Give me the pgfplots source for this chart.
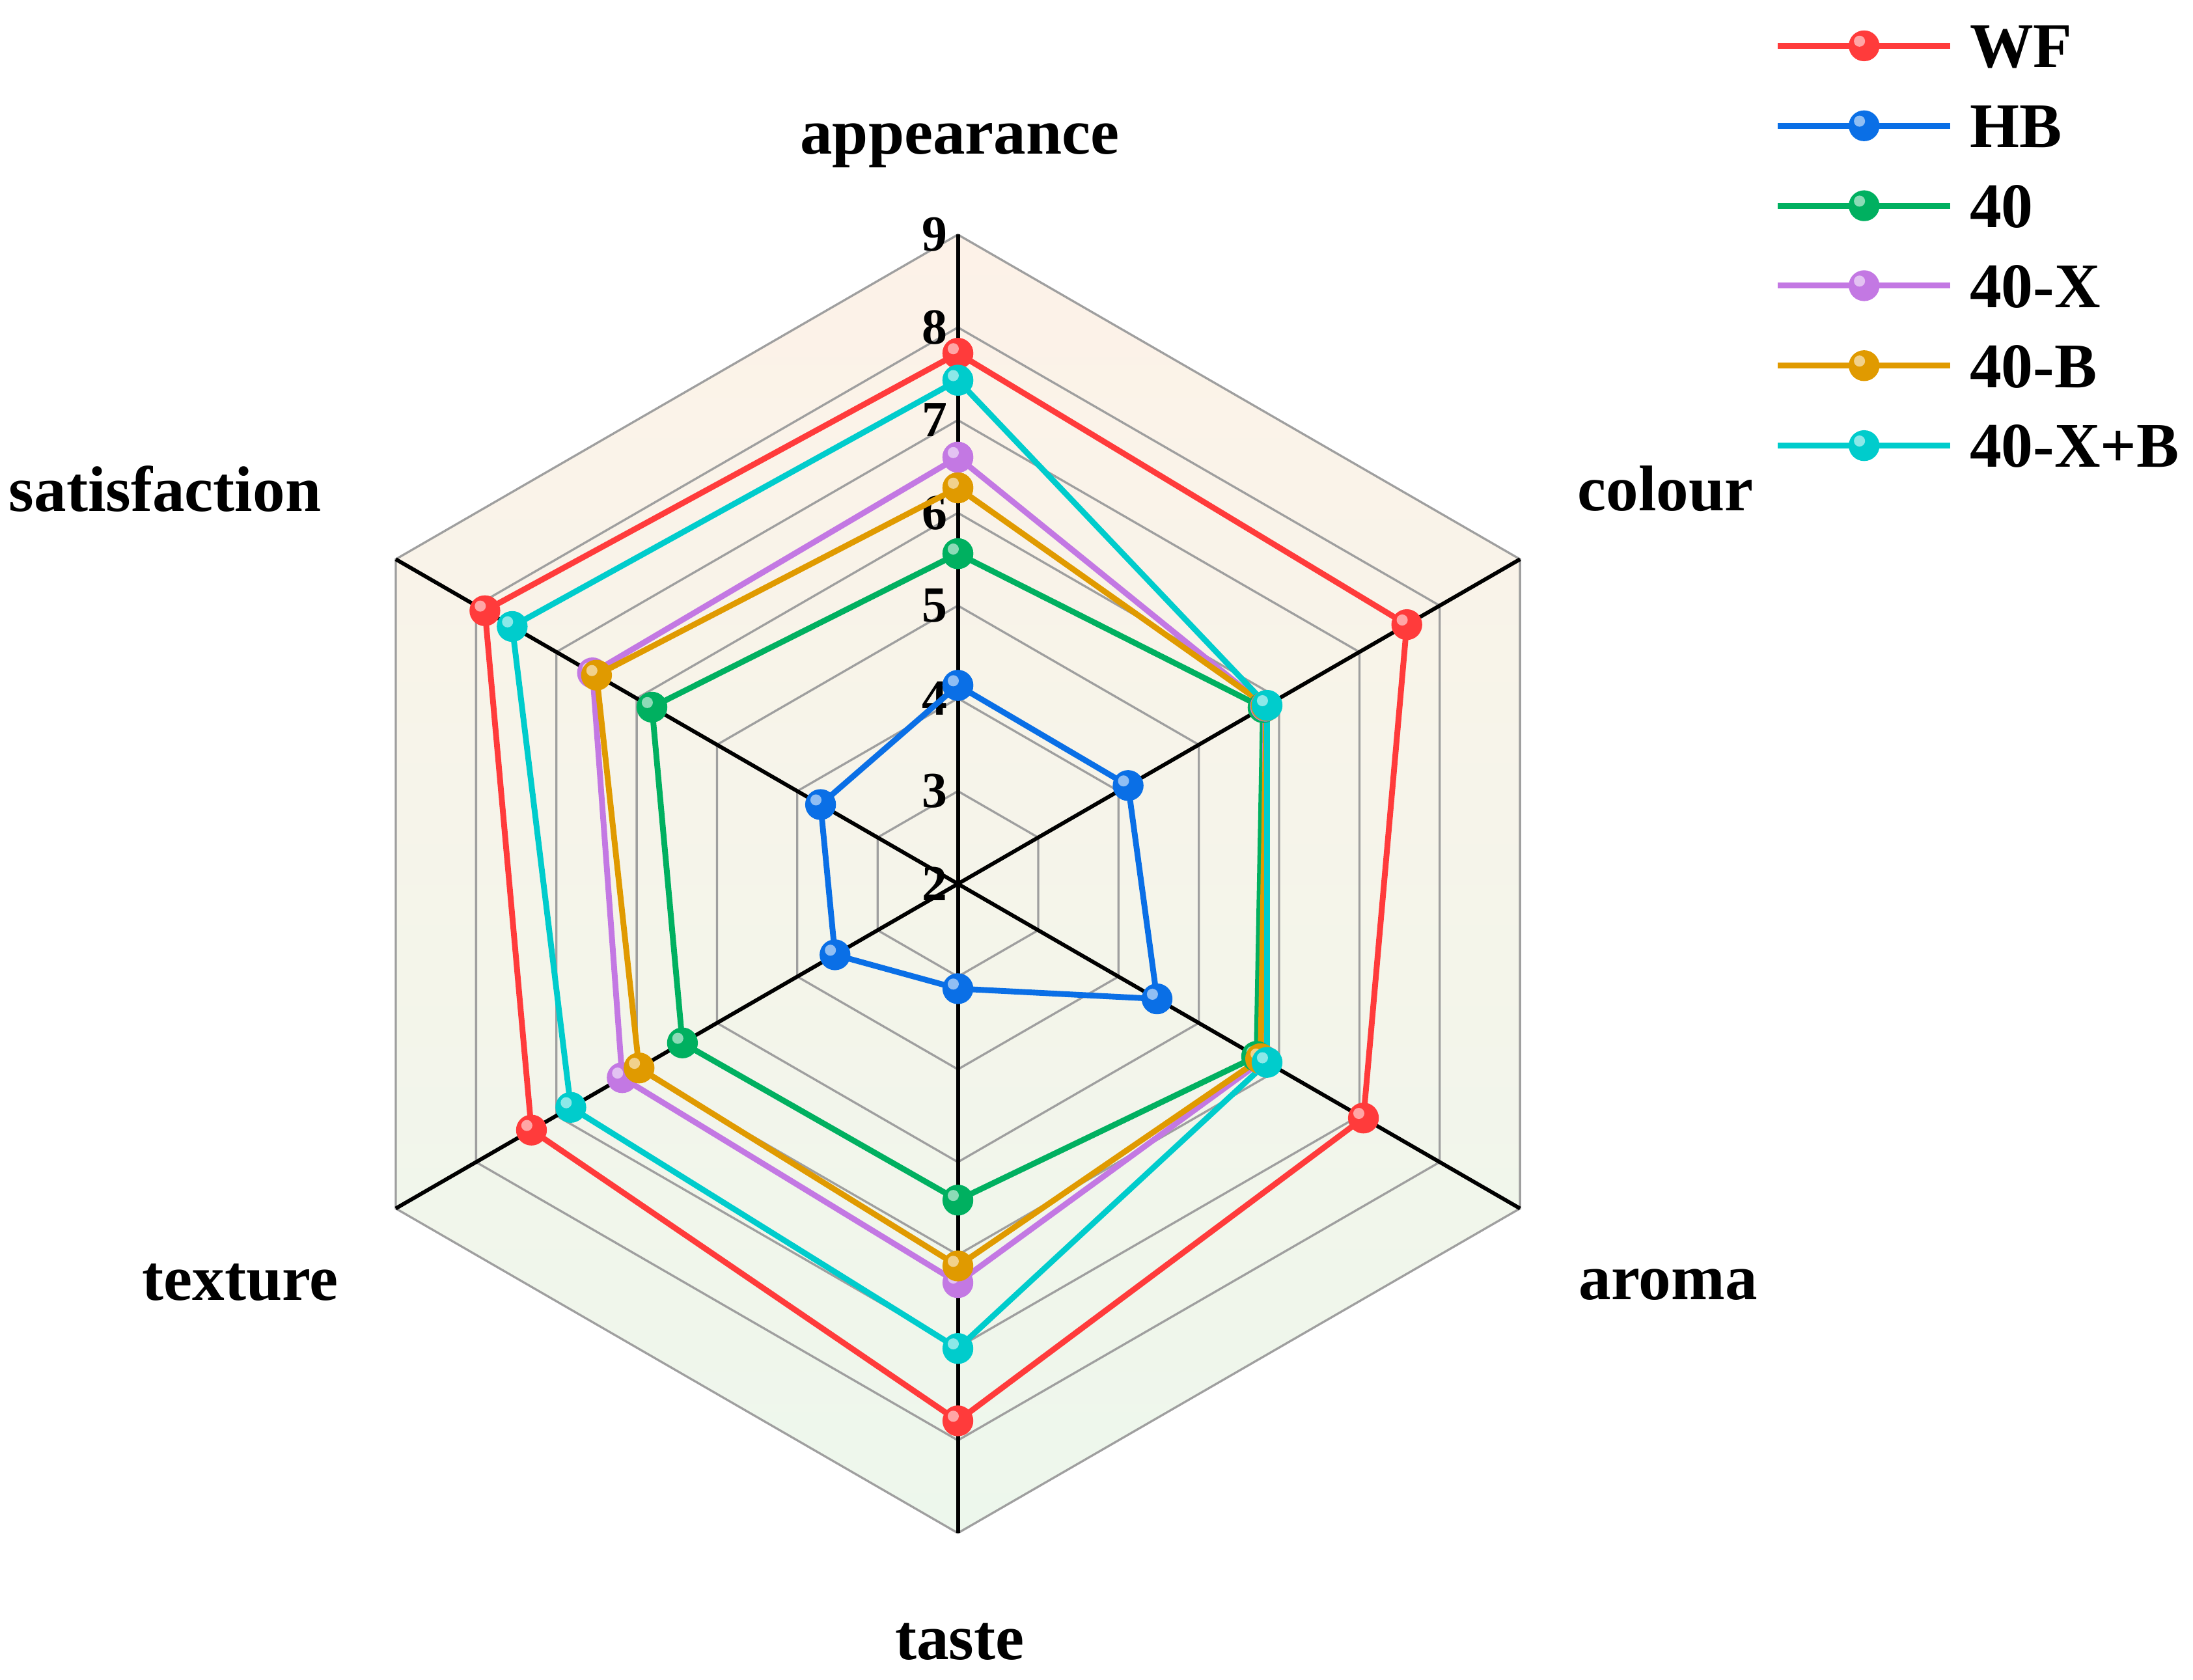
\documentclass[border=0pt]{standalone}
\usepackage{pgfplots}
\usepackage{pgfplotstable}
\pgfplotsset{compat=1.18}
\usepackage{fontspec}
\setmainfont{Liberation Serif}

\definecolor{cWF}{HTML}{FF3B3B}
\definecolor{cHB}{HTML}{0A6FE6}
\definecolor{cA}{HTML}{00B060}
\definecolor{cAX}{HTML}{C378E3}
\definecolor{cAB}{HTML}{E09A00}
\definecolor{cAXB}{HTML}{00CCCC}
\definecolor{bgtop}{HTML}{FDF2E8}
\definecolor{bgbot}{HTML}{EDF7EC}

% solid ball with a small light highlight
\pgfdeclareplotmark{gball}{%
  \pgfpathcircle{\pgfpointorigin}{\pgfplotmarksize}%
  \pgfusepathqfill
  \begin{pgfscope}
  \pgfsetfillcolor{white}%
  \pgfsetfillopacity{0.55}%
  \pgfpathcircle{\pgfpoint{-0.3\pgfplotmarksize}{0.3\pgfplotmarksize}}{0.36\pgfplotmarksize}%
  \pgfusepathqfill
  \end{pgfscope}}

% angle of each attribute, scores; centre of the chart is score 2
% appearance, colour, aroma, taste, texture, satisfaction (first row repeated to close)
\pgfplotstableread{
ang  WF    HB    A     AX    AB    AXB
90   7.72  4.14  5.56  6.60  6.27  7.43
30   7.59  4.12  5.80  5.83  5.84  5.85
-30  7.05  4.48  5.72  5.80  5.77  5.85
-90  7.79  3.13  5.41  6.30  6.12  7.01
210  7.31  3.53  5.43  6.18  5.97  6.82
150  7.89  3.71  5.81  6.55  6.50  7.55
450  7.72  4.14  5.56  6.60  6.27  7.43
}\scores

\newcommand{\radar}[2]{%
  \addplot[color=#2, line width=1.2pt, mark=gball, mark size=3.2pt,
           mark options={fill=#2}]
    table[x expr={(\thisrow{#1}-2)*cos(\thisrow{ang})},
          y expr={(\thisrow{#1}-2)*sin(\thisrow{ang})}] {\scores};}

\begin{document}
\begin{tikzpicture}
\begin{axis}[
    scale only axis,
    width=16cm, height=12.255cm,
    xmin=-10.33, xmax=13.32,
    ymin=-8.58, ymax=9.53,
    hide axis,
    clip=false,
    legend style={
        at={(axis cs:8.80,9.28)}, anchor=north west,
        draw=none, fill=none, inner sep=0pt,
        row sep=7.6pt,
        font=\fontsize{13.2}{15}\selectfont\bfseries,
        nodes={inner sep=0pt, text height=9pt, text depth=0pt},
        /tikz/every odd column/.append style={column sep=0.12cm}
    },
    legend cell align=left,
    legend image code/.code={%
        \draw[mark repeat=2, mark phase=2]
            plot coordinates {(0cm,0cm) (0.63cm,0cm) (1.26cm,0cm)};}
]
    % background
    \shade[top color=bgtop, bottom color=bgbot]
        (axis cs:0,7) -- (axis cs:6.0622,3.5) -- (axis cs:6.0622,-3.5)
        -- (axis cs:0,-7) -- (axis cs:-6.0622,-3.5) -- (axis cs:-6.0622,3.5) -- cycle;
    % hexagonal grid
    \pgfplotsinvokeforeach{1,...,7}{
        \draw[gray!75, line width=0.45pt]
            (axis cs:0,#1) -- (axis cs:{0.866025*#1},{0.5*#1})
            -- (axis cs:{0.866025*#1},{-0.5*#1}) -- (axis cs:0,-#1)
            -- (axis cs:{-0.866025*#1},{-0.5*#1}) -- (axis cs:{-0.866025*#1},{0.5*#1}) -- cycle;
    }
    % spokes
    \pgfplotsinvokeforeach{90,30,-30,-90,-150,150}{
        \draw[black, line width=0.8pt] (axis cs:0,0) -- (axis cs:{7*cos(#1)},{7*sin(#1)});
    }
    % radial tick labels
    \pgfplotsinvokeforeach{2,...,9}{
        \node[anchor=east, inner sep=0pt, font=\fontsize{10.5}{12}\selectfont\bfseries]
            at (axis cs:-0.1,{#1-2}) {#1};
    }

    \radar{WF}{cWF}
    \radar{HB}{cHB}
    \radar{A}{cA}
    \radar{AX}{cAX}
    \radar{AB}{cAB}
    \radar{AXB}{cAXB}
    \legend{WF, HB, 40, 40-X, 40-B, 40-X+B}

    % attribute labels
    \begin{scope}[font=\fontsize{13.4}{15}\selectfont\bfseries]
    \node at (axis cs:0.02,7.96) {appearance};
    \node at (axis cs:7.63,4.26) {colour};
    \node at (axis cs:7.66,-4.32) {aroma};
    \node at (axis cs:0.02,-8.17) {taste};
    \node at (axis cs:-7.74,-4.30) {texture};
    \node at (axis cs:-8.55,4.26) {satisfaction};
    \end{scope}
\end{axis}
\pgfresetboundingbox
\path[use as bounding box] (current axis.south west) rectangle (current axis.north east);
\end{tikzpicture}
\end{document}
